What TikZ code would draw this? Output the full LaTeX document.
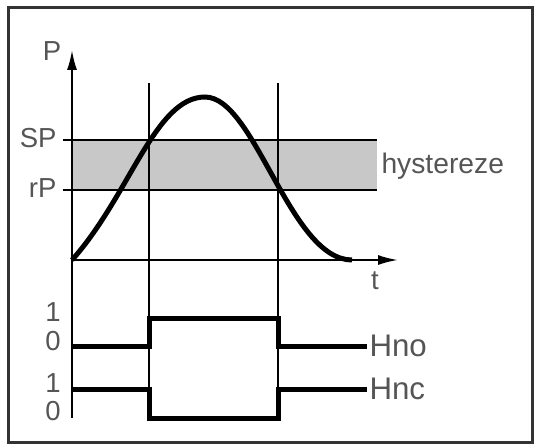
\documentclass[tikz,border=0pt]{standalone}
\usepackage{fontspec}
\setmainfont{Liberation Sans}
\usetikzlibrary{arrows.meta}
\definecolor{txtgray}{HTML}{555555}
\definecolor{bandgray}{HTML}{C8C8C8}
\definecolor{framegray}{HTML}{333333}

\begin{document}
\begin{tikzpicture}[x=0.4pt,y=-0.4pt,>={Latex[length=8pt,width=4pt]},
  lab/.style={text=txtgray,inner sep=0pt,font=\fontsize{11}{13}\selectfont},
  biglab/.style={lab,font=\fontsize{12.5}{14}\selectfont},
  axisline/.style={line width=0.8pt},
  sig/.style={line width=2pt}]
\useasboundingbox (0,0) rectangle (537,445);
\draw[framegray,line width=1.2pt] (8,8) rectangle (532,442);
% hysteresis band
\fill[bandgray] (72,140) rectangle (377,190);
\foreach \y/\nm in {140/SP,190/rP}{
\draw[axisline] (63,\y)--(377,\y);
\node[lab,anchor=east] (\nm) at (57,\y-2){\nm};}
\node[lab,anchor=west,font=\fontsize{11.3}{13}\selectfont] (hyst) at (381,166){hystereze};
% axes
\coordinate (O) at (72,260);
\draw[axisline,->] (72,418)--(72,50);
\draw[axisline,->] (O)--(398,260);
\node[lab] (Plab) at (52,51){P};
\node[lab] (tlab) at (375,281){t};
\foreach \x in {149,278} \draw[axisline] (\x,83)--(\x,420);
% pressure curve
\draw[sig] (O) .. controls (130,195) and (155,97) .. (205,97)
  .. controls (255,97) and (290,260) .. (352,260);
% switching outputs
\foreach \y/\d [count=\i] in {312/1,341/0,383/1,411/0}
\node[lab] (d\i) at (53,\y){\d};
\draw[sig] (72,346)-|(149,318)-|(278,346)--(367,346) node[biglab,anchor=west] (Hno){Hno};
\draw[sig] (72,389)-|(149,418)-|(278,389)--(367,389) node[biglab,anchor=west] (Hnc){Hnc};
\end{tikzpicture}
\end{document}
